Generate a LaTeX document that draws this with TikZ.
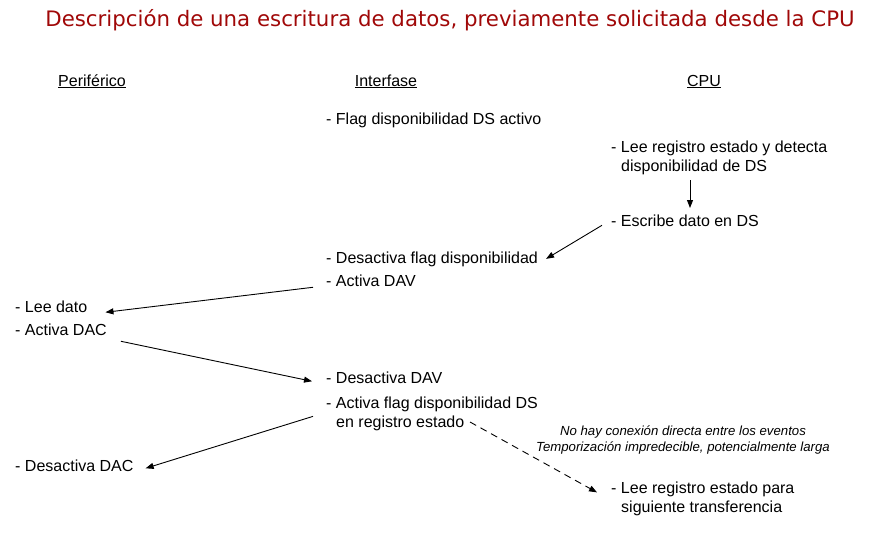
\documentclass[tikz,border=0pt]{standalone}
\usepackage{fontspec}
\setmainfont{Liberation Sans}
\newfontfamily\titlefont{DejaVu Sans}
\usetikzlibrary{arrows.meta}
\definecolor{titlered}{RGB}{160,8,8}
\begin{document}
\begin{tikzpicture}
      [x=1pt,y=-1pt,
      every node/.style={anchor=base west, inner sep=0pt, font=\fontsize{16}{19}\selectfont, align=left},
      head/.style={anchor=base, font=\fontsize{16}{19}\selectfont},
      note/.style={anchor=base, align=center, font=\fontsize{13.2}{16}\selectfont\itshape},
      flow/.style={-{Triangle[length=8pt,width=6pt]}, line width=0.9pt},
      ]
      \useasboundingbox (0,0) rectangle (893,546);
      \node[anchor=base, text=titlered, font=\titlefont\fontsize{21.3}{24}\selectfont] (title) at (450,27)
        {Descripción de una escritura de datos, previamente solicitada desde la CPU};
      \node[head] (per) at (92,86) {\underline{Periférico}};
      \node[head] (intf) at (386,86) {\underline{Interfase}};
      \node[head] (cpu) at (704,86) {\underline{CPU}};
      % interfase
      \node (flag) at (326,124) {- Flag disponibilidad DS activo};
      \node (desflag) at (326,263) {- Desactiva flag disponibilidad};
      \node (dav) at (326,286) {- Activa DAV};
      \node (desdav) at (326,383) {- Desactiva DAV};
      \node (actflag) at (326,427) {- Activa flag disponibilidad DS\\\hspace*{10pt}en registro estado};
      % cpu
      \node (detect) at (611,171) {- Lee registro estado y detecta\\\hspace*{10pt}disponibilidad de DS};
      \node (escribe) at (611,226) {- Escribe dato en DS};
      \node (sig) at (611,512) {- Lee registro estado para\\\hspace*{10pt}siguiente transferencia};
      % periferico
      \node (lee) at (15,312) {- Lee dato};
      \node (dac) at (15,335) {- Activa DAC};
      \node (desdac) at (15,471) {- Desactiva DAC};
      \node[note] (nota) at (683,451) {No hay conexión directa entre los eventos\\Temporización impredecible, potencialmente larga};
      % arrows
      \coordinate (c1) at (690,180);
      \coordinate (c2) at (690,208);
      \coordinate (c3) at (470,422);
      \draw[flow] (c1) -- (c2);
      \draw[flow] ([xshift=-9pt,yshift=-5pt]escribe.west) -- ([xshift=8pt,yshift=0pt]desflag.east);
      \draw[flow] ([xshift=-13pt,yshift=-7pt]dav.west) -- ([xshift=18pt,yshift=-6pt]lee.east);
      \draw[flow] ([xshift=14pt,yshift=-12pt]dac.east) -- ([xshift=-14pt,yshift=-4pt]desdav.west);
      \draw[flow] ([xshift=-13pt,yshift=-3pt]actflag.west) -- ([xshift=12pt,yshift=-3pt]desdac.east);
      \draw[flow, dash pattern=on 7pt off 5pt] (c3) -- ([xshift=-14pt,yshift=6pt]sig.west);
\end{tikzpicture}
\end{document}
